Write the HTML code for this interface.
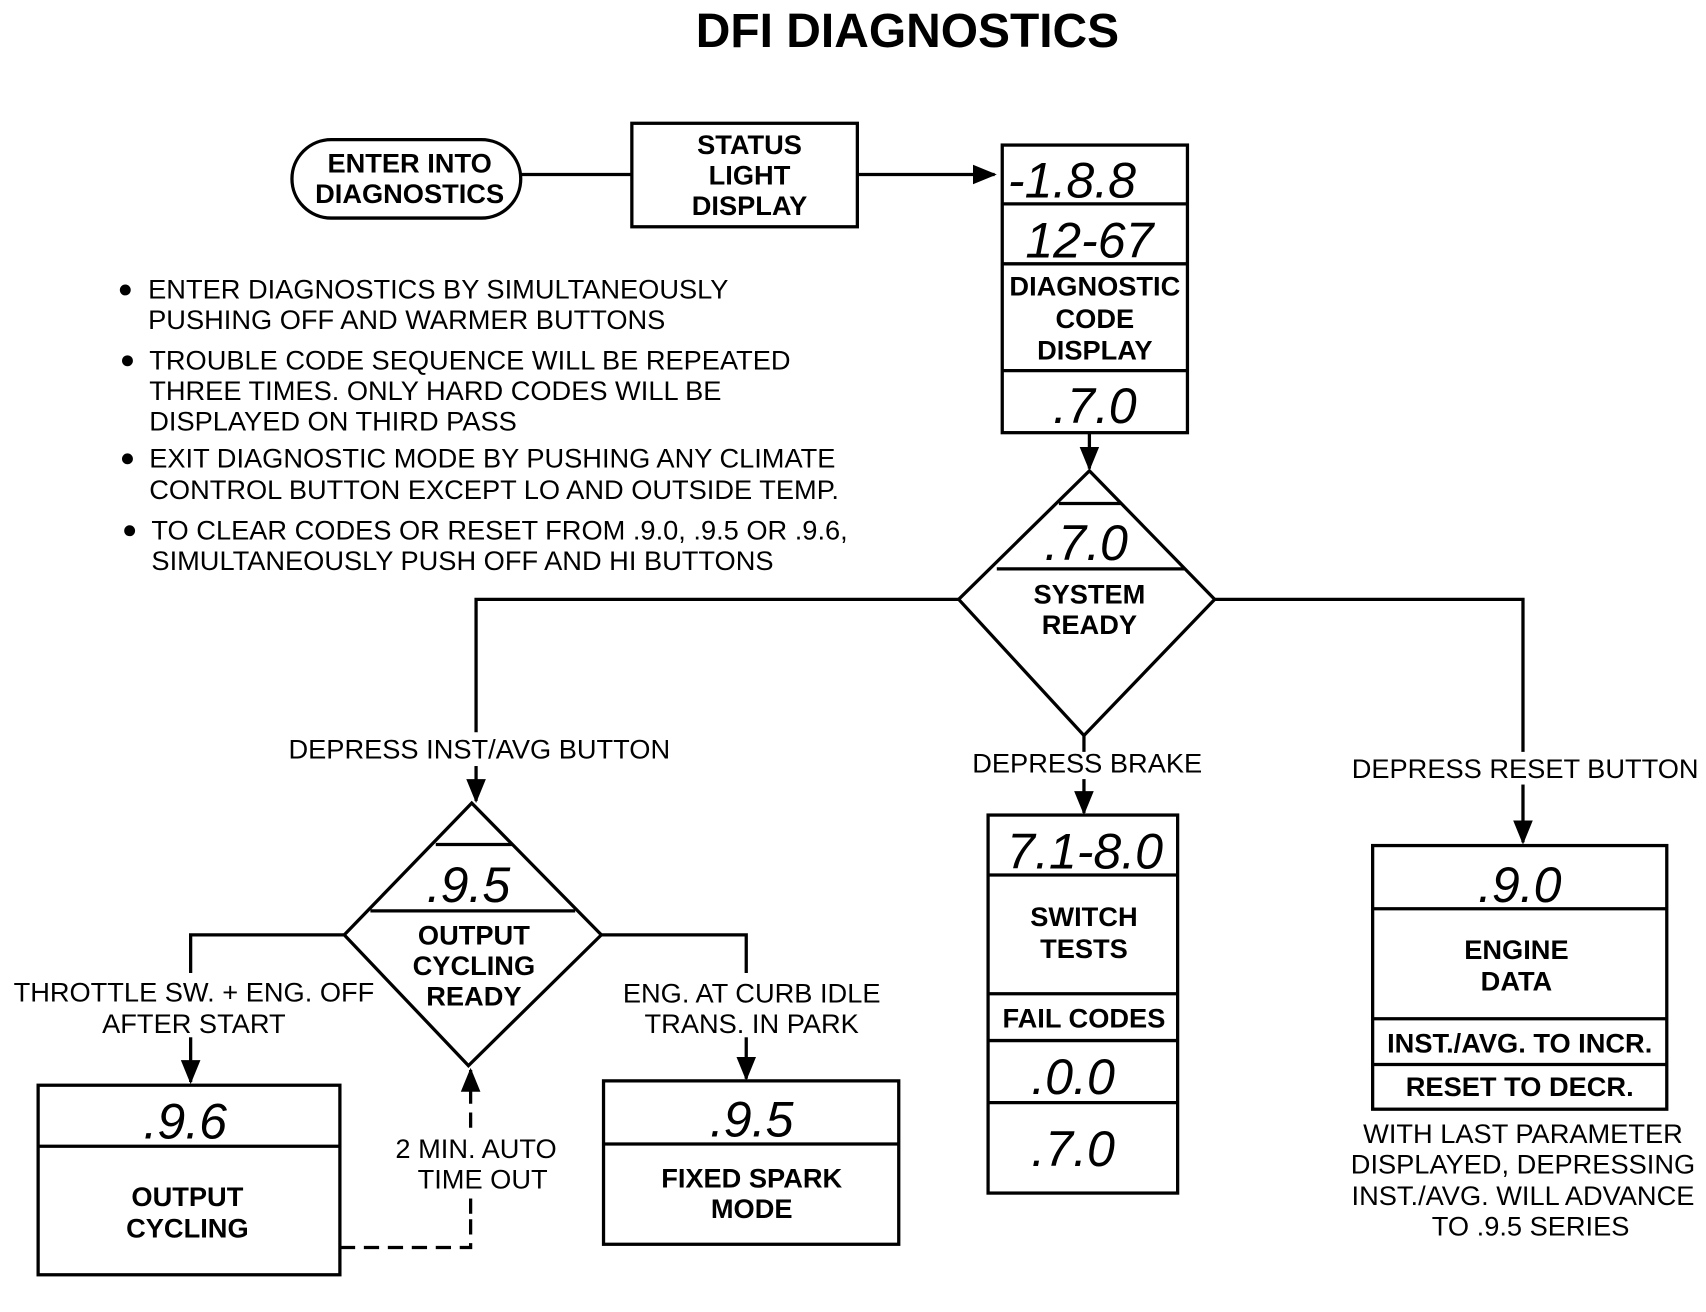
<!DOCTYPE html>
<html><head><style>
html,body{margin:0;padding:0;background:#fff;}
svg{display:block;}
text{font-family:"Liberation Sans",Arial,sans-serif;fill:#000;}
.b{font-weight:bold;font-size:25px;}
.n{font-size:25px;}
.d{font-style:italic;font-size:46px;font-family:"Liberation Sans Narrow","Liberation Sans",sans-serif;}
</style></head><body>
<svg width="1706" height="1312" viewBox="0 0 1566 1204" xmlns="http://www.w3.org/2000/svg">
<defs>
<marker id="ab" markerWidth="22" markerHeight="22" refX="20" refY="11" orient="auto" markerUnits="userSpaceOnUse" viewBox="0 0 22 22"><path d="M0,2 L22,11 L0,20z" fill="#000"/></marker></defs>
<g stroke="#000" stroke-width="3" fill="none">
<rect x="268" y="128" width="210" height="72" rx="36"/>
<line x1="478" y1="160" x2="580" y2="160"/>
<rect x="580" y="113" width="207" height="95"/>
<line x1="787" y1="160" x2="913" y2="160" marker-end="url(#ab)"/>
<rect x="920" y="133" width="170" height="264"/>
<line x1="920" y1="187" x2="1090" y2="187"/><line x1="920" y1="242" x2="1090" y2="242"/><line x1="920" y1="340" x2="1090" y2="340"/>
<line x1="1000" y1="397" x2="1000" y2="430" marker-end="url(#ab)"/>
<path d="M1000,432 L1115,550 L995,675 L880,550 Z"/>
<line x1="915" y1="522" x2="1087" y2="522"/><line x1="972" y1="462" x2="1029" y2="462"/>
<polyline points="880,550 437,550 437,672"/>
<line x1="437" y1="703" x2="437" y2="735" marker-end="url(#ab)"/>
<polyline points="1115,550 1398,550 1398,690"/>
<line x1="1398" y1="720" x2="1398" y2="773" marker-end="url(#ab)"/>
<line x1="995" y1="675" x2="995" y2="690"/>
<line x1="995" y1="715" x2="995" y2="746" marker-end="url(#ab)"/>
<rect x="907" y="748" width="174" height="347"/>
<line x1="907" y1="803" x2="1081" y2="803"/><line x1="907" y1="912" x2="1081" y2="912"/><line x1="907" y1="955" x2="1081" y2="955"/><line x1="907" y1="1012" x2="1081" y2="1012"/>
<rect x="1260" y="776" width="270" height="242"/>
<line x1="1260" y1="834" x2="1530" y2="834"/><line x1="1260" y1="935" x2="1530" y2="935"/><line x1="1260" y1="977" x2="1530" y2="977"/>
<path d="M433,737 L552,858 L430,978 L316,858 Z"/>
<line x1="340" y1="836" x2="528" y2="836"/><line x1="400" y1="775" x2="470" y2="775"/>
<polyline points="316,858 175,858 175,893"/>
<line x1="175" y1="952" x2="175" y2="993" marker-end="url(#ab)"/>
<polyline points="552,858 685,858 685,893"/>
<line x1="685" y1="952" x2="685" y2="990" marker-end="url(#ab)"/>
<rect x="35" y="996" width="277" height="174"/><line x1="35" y1="1052" x2="312" y2="1052"/>
<rect x="554" y="992" width="271" height="150"/><line x1="554" y1="1050" x2="825" y2="1050"/>
<polyline points="312,1145 432,1145 432,1115" stroke-dasharray="14,8"/>
<line x1="432" y1="1035" x2="432" y2="982" stroke-dasharray="14,8" marker-end="url(#ab)"/>
<line x1="432" y1="1100" x2="432" y2="1114"/>
</g>
<text x="833" y="43" text-anchor="middle" style="font-weight:bold;font-size:44px">DFI DIAGNOSTICS</text>
<g class="b" text-anchor="middle">
<text x="376" y="158" class="b">ENTER INTO</text><text x="376" y="186" class="b">DIAGNOSTICS</text>
<text x="688" y="141" class="b">STATUS</text><text x="688" y="169" class="b">LIGHT</text><text x="688" y="197" class="b">DISPLAY</text>
<text x="1005" y="271" class="b">DIAGNOSTIC</text><text x="1005" y="301" class="b">CODE</text><text x="1005" y="330" class="b">DISPLAY</text>
<text x="1000" y="554" class="b">SYSTEM</text><text x="1000" y="582" class="b">READY</text>
<text x="995" y="850" class="b">SWITCH</text><text x="995" y="879" class="b">TESTS</text>
<text x="995" y="943" class="b">FAIL CODES</text>
<text x="1392" y="880" class="b">ENGINE</text><text x="1392" y="909" class="b">DATA</text>
<text x="1395" y="966" class="b">INST./AVG. TO INCR.</text>
<text x="1395" y="1006" class="b">RESET TO DECR.</text>
<text x="435" y="867" class="b">OUTPUT</text><text x="435" y="895" class="b">CYCLING</text><text x="435" y="923" class="b">READY</text>
<text x="172" y="1107" class="b">OUTPUT</text><text x="172" y="1136" class="b">CYCLING</text>
<text x="690" y="1090" class="b">FIXED SPARK</text><text x="690" y="1118" class="b">MODE</text>
</g>
<g class="n" text-anchor="middle">
<text x="1398" y="1049" class="n">WITH LAST PARAMETER</text>
<text x="1398" y="1077" class="n">DISPLAYED, DEPRESSING</text>
<text x="1398" y="1106" class="n">INST./AVG. WILL ADVANCE</text>
<text x="1405" y="1134" class="n">TO .9.5 SERIES</text>
<text x="440" y="696" class="n">DEPRESS INST/AVG BUTTON</text>
<text x="1400" y="714" class="n">DEPRESS RESET BUTTON</text>
<text x="998" y="709" class="n">DEPRESS BRAKE</text>
<text x="178" y="919" class="n">THROTTLE SW. + ENG. OFF</text>
<text x="178" y="948" class="n">AFTER START</text>
<text x="690" y="920" class="n">ENG. AT CURB IDLE</text>
<text x="690" y="948" class="n">TRANS. IN PARK</text>
<text x="437" y="1063" class="n">2 MIN. AUTO</text>
<text x="443" y="1091" class="n">TIME OUT</text>
</g>
<g class="n">
<text x="136" y="274" class="n">ENTER DIAGNOSTICS BY SIMULTANEOUSLY</text>
<text x="136" y="302" class="n">PUSHING OFF AND WARMER BUTTONS</text>
<text x="137" y="339" class="n">TROUBLE CODE SEQUENCE WILL BE REPEATED</text>
<text x="137" y="367" class="n">THREE TIMES. ONLY HARD CODES WILL BE</text>
<text x="137" y="395" class="n">DISPLAYED ON THIRD PASS</text>
<text x="137" y="429" class="n">EXIT DIAGNOSTIC MODE BY PUSHING ANY CLIMATE</text>
<text x="137" y="458" class="n">CONTROL BUTTON EXCEPT LO AND OUTSIDE TEMP.</text>
<text x="139" y="495" class="n">TO CLEAR CODES OR RESET FROM .9.0, .9.5 OR .9.6,</text>
<text x="139" y="523" class="n">SIMULTANEOUSLY PUSH OFF AND HI BUTTONS</text>
</g>
<g fill="#000"><circle cx="115" cy="266" r="5"/><circle cx="117" cy="331" r="5"/><circle cx="117" cy="421" r="5"/><circle cx="119" cy="487" r="5"/></g>
<g class="d" text-anchor="middle">
<text x="984" y="181" class="d">-1.8.8</text>
<text x="1000" y="236" class="d">12-67</text>
<text x="1005" y="388" class="d">.7.0</text>
<text x="997" y="514" class="d">.7.0</text>
<text x="996" y="797" class="d">7.1-8.0</text>
<text x="985" y="1004" class="d">.0.0</text>
<text x="985" y="1070" class="d">.7.0</text>
<text x="1395" y="828" class="d">.9.0</text>
<text x="430" y="828" class="d">.9.5</text>
<text x="170" y="1045" class="d">.9.6</text>
<text x="690" y="1043" class="d">.9.5</text>
</g>
</svg>
</body></html>
